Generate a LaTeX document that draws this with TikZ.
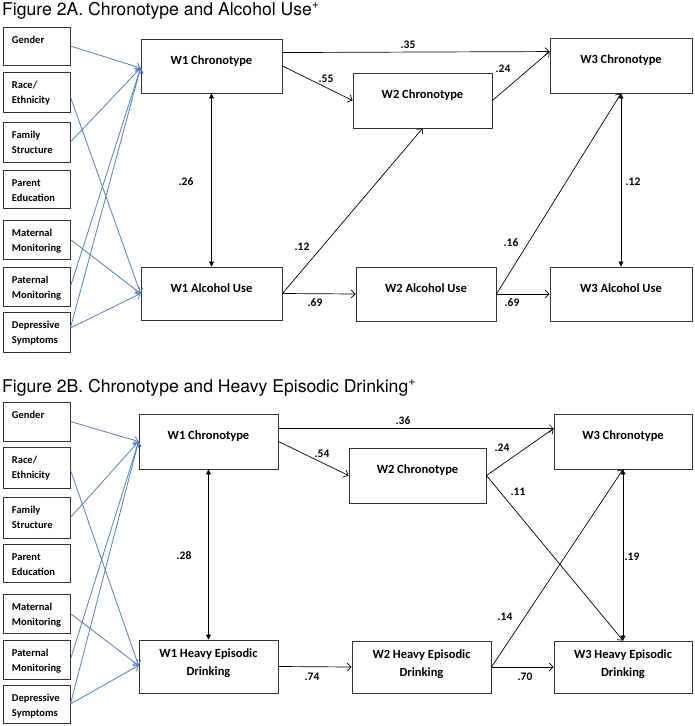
\documentclass[tikz,border=0pt]{standalone}
\usepackage{fontspec}
\setmainfont{Carlito}
\newfontfamily\titlefont{TeX Gyre Heros}
\usetikzlibrary{arrows.meta,calc}
\definecolor{covblue}{RGB}{79,129,189}
\newcommand{\mtext}[4]{\parbox[c][#1][t]{#2}{\centering\rule{0pt}{#3}#4\par}}
\newcommand{\ctext}[3]{\parbox[c][#1][t]{67pt}{\raggedright\leftskip=9pt\rule{0pt}{#2}#3\par}}
\tikzset{
  x=1pt, y=-1pt,
  mainbox/.style={draw=black!80, line width=0.9pt, inner sep=0pt, font=\bfseries\fontsize{12.5}{18}\selectfont},
  covbox/.style={draw=black!80, line width=0.9pt, inner sep=0pt, font=\bfseries\fontsize{10.5}{15}\selectfont},
  path/.style={draw=black, line width=0.7pt, -{Straight Barb[length=4pt,width=8pt]}},
  covar/.style={draw=covblue, line width=0.8pt, -{Straight Barb[length=4pt,width=8pt]}},
  corr/.style={draw=black, line width=0.7pt, {Triangle[length=5pt,width=5pt]}-{Triangle[length=5pt,width=5pt]}},
  coef/.style={font=\bfseries\fontsize{11.5}{13}\selectfont, inner sep=0pt},
  ttl/.style={font=\titlefont\fontsize{17.6}{20}\selectfont, anchor=base west, inner sep=0pt}
}
\begin{document}
\begin{tikzpicture}
\useasboundingbox (0,0) rectangle (694,726);
% ================= Figure 2A =================
\node[ttl] (tA) at (2,15) {Figure 2A. Chronotype and Alcohol Use\textsuperscript{+}};
% covariates
\node[covbox] (gA) at (36.5,46) {\ctext{38pt}{16pt}{Gender}};
\node[covbox] (rA) at (36.5,92) {\ctext{40pt}{16pt}{Race/\\Ethnicity}};
\node[covbox] (fA) at (36.5,142) {\ctext{40pt}{16pt}{Family\\Structure}};
\node[covbox] (pA) at (36.5,189) {\ctext{38pt}{16pt}{Parent\\Education}};
\node[covbox] (mA) at (36.5,239.5) {\ctext{39pt}{16pt}{Maternal\\Monitoring}};
\node[covbox] (qA) at (36.5,286.5) {\ctext{39pt}{16pt}{Paternal\\Monitoring}};
\node[covbox] (dA) at (36.5,332) {\ctext{40pt}{16pt}{Depressive\\Symptoms}};
% main boxes
\node[mainbox] (c1A) at (211.5,66) {\mtext{54pt}{141pt}{25pt}{W1 Chronotype}};
\node[mainbox] (a1A) at (211.5,293.5) {\mtext{53pt}{141pt}{25pt}{W1 Alcohol Use}};
\node[mainbox] (c2A) at (422.5,100.5) {\mtext{55pt}{139pt}{25pt}{W2 Chronotype}};
\node[mainbox] (c3A) at (621,65.5) {\mtext{55pt}{142pt}{25pt}{W3 Chronotype}};
\node[mainbox] (a2A) at (426,294) {\mtext{54pt}{140pt}{25pt}{W2 Alcohol Use}};
\node[mainbox] (a3A) at (621,294) {\mtext{54pt}{142pt}{25pt}{W3 Alcohol Use}};
% covariate arrows
\coordinate (tcA) at ($(c1A.west)+(0,2)$);
\coordinate (taA) at (a1A.west);
\draw[covar] (gA.east) -- (tcA);
\draw[covar] ($(rA.east)+(0,5)$) -- (taA);
\draw[covar] (fA.east) -- (tcA);
\draw[covar] (mA.east) -- (taA);
\draw[covar] (qA.east) -- (tcA);
\draw[covar] ($(dA.east)+(0,-4)$) -- (tcA);
\draw[covar] ($(dA.east)+(0,-4)$) -- (taA);
% structural paths
\draw[path] ($(c1A.north east)+(0,14)$) -- ($(c3A.north west)+(0,14)$);
\draw[path] (c1A.east) -- (c2A.west);
\draw[path] (c2A.east) -- ($(c3A.north west)+(0,14)$);
\draw[corr] (c1A.south) -- (a1A.north);
\draw[path] (a1A.east) -- (c2A.south);
\draw[path] (a1A.east) -- (a2A.west);
\draw[path] (a2A.east) -- (a3A.west);
\draw[path] (a2A.east) -- (c3A.south);
\draw[corr] (c3A.south) -- (a3A.north);
% coefficients
\node[coef] (k1) at (408,45) {.35};
\node[coef] (k2) at (326,79) {.55};
\node[coef] (k3) at (503,69) {.24};
\node[coef] (k4) at (186,182) {.26};
\node[coef] (k5) at (302,247) {.12};
\node[coef] (k6) at (315,303) {.69};
\node[coef] (k7) at (512,303) {.69};
\node[coef] (k8) at (511,243) {.16};
\node[coef] (k9) at (633,182) {.12};
% ================= Figure 2B =================
\node[ttl] (tB) at (2,392) {Figure 2B. Chronotype and Heavy Episodic Drinking\textsuperscript{+}};
\node[covbox] (gB) at (36.5,421.5) {\ctext{39pt}{16pt}{Gender}};
\node[covbox] (rB) at (36.5,467.5) {\ctext{41pt}{16pt}{Race/\\Ethnicity}};
\node[covbox] (fB) at (36.5,517.5) {\ctext{41pt}{16pt}{Family\\Structure}};
\node[covbox] (pB) at (36.5,563) {\ctext{38pt}{16pt}{Parent\\Education}};
\node[covbox] (mB) at (36.5,613.5) {\ctext{39pt}{16pt}{Maternal\\Monitoring}};
\node[covbox] (qB) at (36.5,659.5) {\ctext{39pt}{16pt}{Paternal\\Monitoring}};
\node[covbox] (dB) at (36.5,704) {\ctext{38pt}{16pt}{Depressive\\Symptoms}};
\node[mainbox] (c1B) at (208.5,441.5) {\mtext{55pt}{139pt}{25pt}{W1 Chronotype}};
\node[mainbox] (h1B) at (208.5,666.5) {\mtext{53pt}{139pt}{17pt}{W1 Heavy Episodic\\Drinking}};
\node[mainbox] (c2B) at (417.5,475.5) {\mtext{55pt}{137pt}{25pt}{W2 Chronotype}};
\node[mainbox] (c3B) at (623,441.5) {\mtext{55pt}{138pt}{25pt}{W3 Chronotype}};
\node[mainbox] (h2B) at (421.5,667) {\mtext{52pt}{139pt}{17pt}{W2 Heavy Episodic\\Drinking}};
\node[mainbox] (h3B) at (623,667) {\mtext{52pt}{138pt}{17pt}{W3 Heavy Episodic\\Drinking}};
\coordinate (tcB) at (c1B.west);
\coordinate (thB) at ($(h1B.west)+(0,-1)$);
\draw[covar] (gB.east) -- (tcB);
\draw[covar] ($(rB.east)+(0,2.5)$) -- (thB);
\draw[covar] (fB.east) -- (tcB);
\draw[covar] (mB.east) -- (thB);
\draw[covar] (qB.east) -- (tcB);
\draw[covar] (dB.east) -- (tcB);
\draw[covar] (dB.east) -- (thB);
\draw[path] ($(c1B.north east)+(0,15)$) -- ($(c3B.north west)+(0,15)$);
\draw[path] (c1B.east) -- (c2B.west);
\draw[path] (c2B.east) -- ($(c3B.north west)+(0,15)$);
\draw[path] (c2B.east) -- (h3B.north);
\draw[corr] (c1B.south) -- (h1B.north);
\draw[path] (h1B.east) -- (h2B.west);
\draw[path] (h2B.east) -- (h3B.west);
\draw[path] (h2B.east) -- (c3B.south);
\draw[corr] (c3B.south) -- (h3B.north);
\node[coef] (m1) at (403,421) {.36};
\node[coef] (m2) at (322,454) {.54};
\node[coef] (m3) at (502,448) {.24};
\node[coef] (m4) at (518,492) {.11};
\node[coef] (m5) at (184,556) {.28};
\node[coef] (m6) at (312,677) {.74};
\node[coef] (m7) at (525,677) {.70};
\node[coef] (m8) at (505,617) {.14};
\node[coef] (m9) at (632,557) {.19};
\end{tikzpicture}
\end{document}
